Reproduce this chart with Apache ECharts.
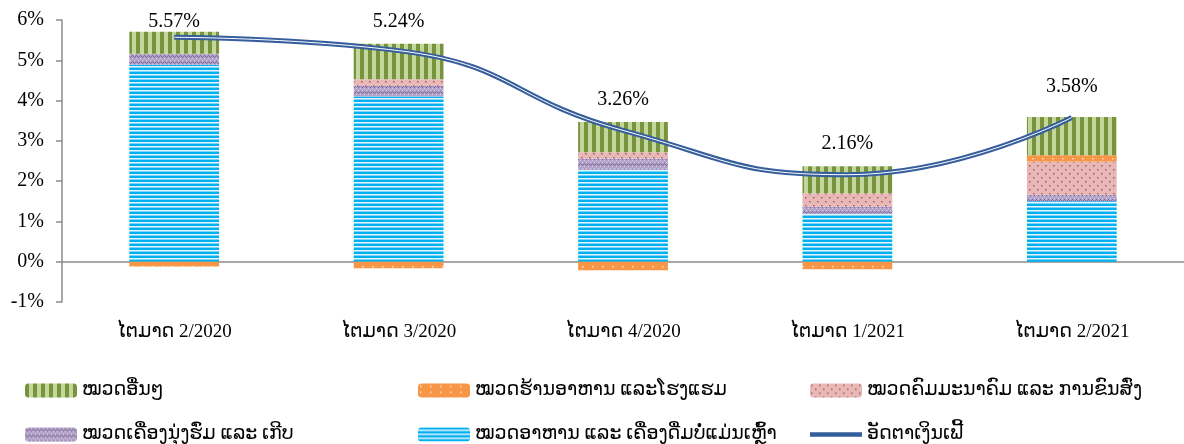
<!DOCTYPE html>
<html><head><meta charset="utf-8">
<script src="https://cdn.jsdelivr.net/npm/echarts@6/dist/echarts.min.js"></script>
<style>html,body{margin:0;padding:0;background:#fff}#c{width:1184px;height:444px}</style>
</head><body><div id="c"></div>
<script>
const categories = ['ໄຕມາດ 2/2020','ໄຕມາດ 3/2020','ໄຕມາດ 4/2020','ໄຕມາດ 1/2021','ໄຕມາດ 2/2021'];
const foodValues     = [4.89, 4.10, 2.28, 1.19, 1.50];
const clothingValues = [0.27, 0.27, 0.28, 0.18, 0.16];
const transportValues= [0.00, 0.16, 0.16, 0.33, 0.83];
const hotelValues    = [-0.12, -0.16, -0.21, -0.19, 0.15];
const otherValues    = [0.55, 0.88, 0.75, 0.67, 0.95];
const inflationValues= [5.57, 5.24, 3.26, 2.16, 3.58];
const yTicks = {min: -1, max: 6, interval: 1};

const names = {
  other: 'ໝວດອື່ນໆ',
  hotel: 'ໝວດຮ້ານອາຫານ ແລະໂຮງແຮມ',
  transport: 'ໝວດຄົມມະນາຄົມ ແລະ ການຂົນສົ່ງ',
  clothing: 'ໝວດເຄື່ອງນຸ່ງຮົ່ມ ແລະ ເກີບ',
  food: 'ໝວດອາຫານ ແລະ ເຄື່ອງດື່ມບໍ່ແມ່ນເຫຼົ້າ',
  infl: 'ອັດຕາເງິນເຟີ້'
};

function pat(w, h, draw) {
  const c = document.createElement('canvas'); c.width = w; c.height = h;
  const x = c.getContext('2d'); draw(x);
  return {image: c, repeat: 'repeat'};
}
const greenPat = pat(8, 8, x => { x.fillStyle = '#c3d69b'; x.fillRect(0,0,8,8); x.fillStyle = '#77933c'; x.fillRect(0,0,4,8); });
const bluePat = pat(4, 4, x => { x.fillStyle = '#00b0f0'; x.fillRect(0,0,4,4); x.fillStyle = '#e4f6fd'; x.fillRect(0,2,4,1); x.fillStyle = '#7fd3f5'; x.fillRect(0,3,4,1); });
const purplePat = pat(8, 6, x => {
  x.fillStyle = '#b3a2c7'; x.fillRect(0,0,8,6);
  x.fillStyle = '#7e6a9c';
  [[0,1],[1,2],[2,3],[3,2],[4,1],[5,2],[6,3],[7,2]].forEach(p => x.fillRect(p[0], p[1], 1, 1));
  x.fillStyle = '#d5cbe2'; [[2,0],[6,0],[0,4],[4,4]].forEach(p => x.fillRect(p[0], p[1], 1, 1));
});
const pinkPat = pat(8, 8, x => { x.fillStyle = '#e6b9b8'; x.fillRect(0,0,8,8); x.fillStyle = '#c0504d'; x.fillRect(1,1,1.5,1.5); x.fillRect(5,5,1.5,1.5); });
const orangePat = pat(10, 6, x => { x.fillStyle = '#f79646'; x.fillRect(0,0,10,6); x.fillStyle = '#fde3cc'; x.fillRect(2,2,1.5,1.5); });

const lineColor = '#365e9c';
const serif = 'Liberation Serif';
const laoFont = 'Liberation Serif, Noto Sans, DejaVu Sans, sans-serif';

function barSeries(name, data, color) {
  return {name, type: 'bar', stack: 'cpi', data, barWidth: '40%', itemStyle: {color}, z: 2};
}
function legendAt(left, top, item) {
  return {left, top, padding: 0, orient: 'horizontal', itemWidth: 52, itemHeight: 14, itemGap: 10,
    textStyle: {fontFamily: laoFont, fontSize: 19, color: '#000'}, selectedMode: false, data: [item]};
}
const lineIcon = 'path://M0,5 L52,5 L52,9.5 L0,9.5 Z';

const chart = echarts.init(document.getElementById('c'));
const option = {
  animation: false,
  grid: {left: 62, top: 20, width: 1125, height: 282, containLabel: false},
  legend: [
    legendAt(25, 381, names.other),
    legendAt(418, 381, names.hotel),
    legendAt(810, 381, names.transport),
    legendAt(25, 425, names.clothing),
    legendAt(418, 425, names.food),
    legendAt(810, 425, {name: names.infl, icon: lineIcon})
  ],
  xAxis: [
    {type: 'category', data: categories, position: 'bottom',
     axisLine: {show: false, onZero: false}, axisTick: {show: false},
     axisLabel: {margin: 21, fontFamily: laoFont, fontSize: 19, color: '#000'}},
    {type: 'category', data: categories, position: 'bottom',
     axisLine: {show: true, onZero: true, lineStyle: {color: '#8c8c8c', width: 1.5}},
     axisTick: {show: false}, axisLabel: {show: false}}
  ],
  yAxis: {type: 'value', min: yTicks.min, max: yTicks.max, interval: yTicks.interval,
    axisLine: {show: true, lineStyle: {color: '#8c8c8c', width: 1.5}},
    axisTick: {show: true, length: 6, lineStyle: {color: '#8c8c8c', width: 1.5}},
    splitLine: {show: false},
    axisLabel: {formatter: '{value}%', fontFamily: serif, fontSize: 20, color: '#000', margin: 18}},
  series: [
    barSeries(names.food, foodValues, bluePat),
    barSeries(names.clothing, clothingValues, purplePat),
    barSeries(names.transport, transportValues, pinkPat),
    barSeries(names.hotel, hotelValues, orangePat),
    barSeries(names.other, otherValues, greenPat),
    {name: names.infl, type: 'line', data: inflationValues, smooth: 0.5, z: 5,
     symbol: 'circle', symbolSize: 1, showSymbol: true,
     itemStyle: {color: lineColor},
     lineStyle: {color: lineColor, width: 5},
     label: {show: true, position: 'top', distance: 20, fontFamily: serif, fontSize: 20, color: '#000',
       formatter: p => p.value.toFixed(2) + '%'}},
    {name: 'inner', type: 'line', data: inflationValues, smooth: 0.5, z: 6, silent: true,
     symbol: 'none', lineStyle: {color: '#ffffff', width: 1}}
  ]
};
chart.setOption(option);

// keep labels inside plot area (as the original does for the first point)
const gridTopPx = chart.convertToPixel({yAxisIndex: 0}, yTicks.max);
const labelData = inflationValues.map((v, i) => {
  const py = chart.convertToPixel({yAxisIndex: 0}, v);
  const center = py - 30;
  const minCenter = gridTopPx + 2;
  const off = center < minCenter ? minCenter - center : 0;
  return off ? {value: v, label: {offset: [0, off]}} : v;
});
chart.setOption({series: [{}, {}, {}, {}, {}, {data: labelData}]});
</script></body></html>
